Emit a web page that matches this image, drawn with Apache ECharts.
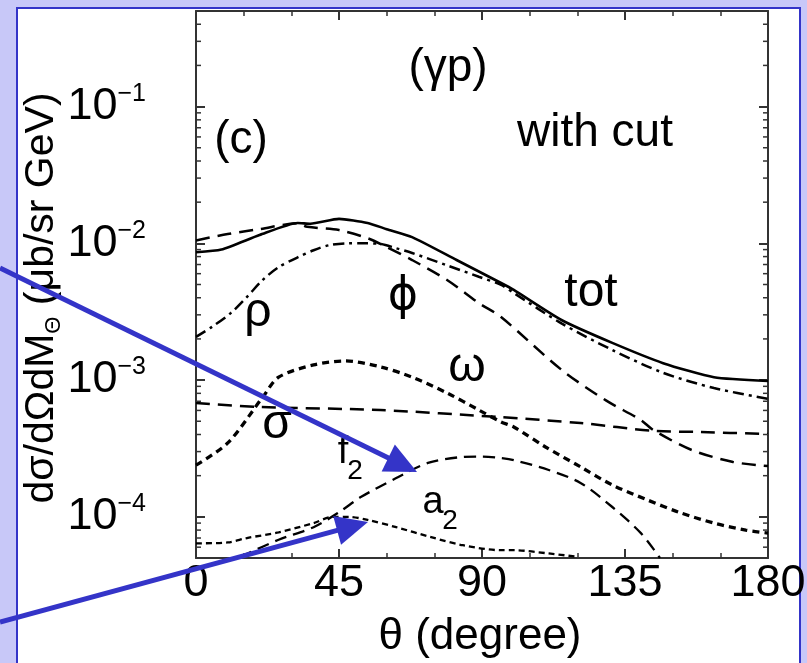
<!DOCTYPE html>
<html><head><meta charset="utf-8">
<script src="https://cdn.jsdelivr.net/npm/echarts@6/dist/echarts.min.js"></script>
<style>html,body{margin:0;padding:0;background:#c8c8f8}#c{width:807px;height:663px}</style>
</head><body><div id="c"></div>
<script>
// ---- data (theta in degrees, cross sections in μb/sr GeV) ----
const xTickLabels = [0, 45, 90, 135, 180];
const yTickLabels = ['10^-4', '10^-3', '10^-2', '10^-1'];

const thetaTot = [0, 8, 20, 32, 36, 45, 54, 60, 68, 82, 96, 100, 115, 131, 147, 163, 180];
const tot = [8.6e-3, 9.0e-3, 1.15e-2, 1.41e-2, 1.39e-2, 1.51e-2, 1.41e-2, 1.27e-2, 1.11e-2, 7.55e-3, 5.13e-3, 4.56e-3, 2.75e-3, 1.87e-3, 1.33e-3, 1.05e-3, 9.85e-4];

const thetaRho = [0, 5, 11, 16, 21, 26, 32, 37, 42, 48, 53, 58, 63, 68, 79, 89, 96, 100, 115, 131, 147, 163, 180];
const rho = [2.07e-3, 2.45e-3, 3.1e-3, 4.05e-3, 5.4e-3, 6.7e-3, 7.9e-3, 8.9e-3, 9.7e-3, 1.0e-2, 1.0e-2, 9.9e-3, 9.2e-3, 8.5e-3, 6.9e-3, 5.7e-3, 4.96e-3, 4.33e-3, 2.6e-3, 1.66e-3, 1.13e-3, 8.75e-4, 7.3e-4];

const thetaPhi = [0, 10, 20, 32, 35, 45, 54, 60, 68, 79, 89, 96, 115, 129, 140, 144, 156, 169, 180];
const phi = [1.05e-2, 1.17e-2, 1.27e-2, 1.40e-2, 1.32e-2, 1.25e-2, 1.09e-2, 9.4e-3, 7.55e-3, 5.4e-3, 3.66e-3, 2.89e-3, 1.19e-3, 7.1e-4, 5.1e-4, 4.3e-4, 3.08e-4, 2.52e-4, 2.35e-4];

const thetaOmega = [0, 10, 21, 26, 37, 47, 58, 68, 79, 89, 96, 100, 110, 121, 131, 142, 152, 163, 173, 180];
const omega = [2.39e-4, 3.47e-4, 7.5e-4, 1.05e-3, 1.29e-3, 1.38e-3, 1.25e-3, 1.05e-3, 8.05e-4, 6.04e-4, 4.94e-4, 4.54e-4, 3.24e-4, 2.32e-4, 1.71e-4, 1.33e-4, 1.08e-4, 9.0e-5, 8.0e-5, 7.6e-5];

const thetaSigma = [0, 20, 58, 95, 121, 144, 159, 180];
const sigma = [6.8e-4, 6.36e-4, 6.04e-4, 5.37e-4, 4.85e-4, 4.25e-4, 4.17e-4, 4.03e-4];

const thetaF2 = [14, 26, 37, 45, 52, 63, 73, 84, 90, 96, 100, 111, 121, 131, 140, 146];
const f2 = [5.1e-5, 6.8e-5, 8.4e-5, 1.08e-4, 1.40e-4, 1.92e-4, 2.48e-4, 2.74e-4, 2.76e-4, 2.69e-4, 2.6e-4, 2.2e-4, 1.77e-4, 1.18e-4, 7.6e-5, 5.0e-5];

const thetaA2 = [0, 10, 16, 26, 37, 43, 48, 54, 63, 74, 84, 96, 100, 111, 120];
const a2 = [6.4e-5, 6.5e-5, 7.0e-5, 7.7e-5, 9.0e-5, 1.0e-4, 1.0e-4, 9.5e-5, 8.4e-5, 7.1e-5, 6.2e-5, 5.7e-5, 5.7e-5, 5.4e-5, 5.1e-5];

// ---- chart ----
const FONT = '"Liberation Sans", Arial, Helvetica, sans-serif';
const GREEK = '"Liberation Sans", "DejaVu Sans", sans-serif';
const X_MIN = 0, X_MAX = 180, Y_MIN = 5e-5, Y_MAX = 0.5;

function pairs(xs, ys) { return xs.map((t, i) => [t, ys[i]]); }

// minor log ticks (2..9 x 10^n) inside the axis range
const minorY = [];
for (let e = -5; e <= -1; e++) {
  for (let k = 2; k <= 9; k++) {
    const v = k * Math.pow(10, e);
    if (v > Y_MIN * 1.0001 && v < Y_MAX * 0.9999) minorY.push([X_MIN, v]);
  }
}

const axisLineStyle = { color: '#333', width: 2 };
function xAxisCfg(pos, showLabel) {
  return {
    type: 'value', position: pos, min: X_MIN, max: X_MAX, interval: 45,
    axisLine: { show: true, onZero: false, lineStyle: axisLineStyle },
    axisTick: { show: true, inside: true, length: 9, lineStyle: { color: '#333', width: 2 } },
    minorTick: { show: true, splitNumber: 3, length: 5, lineStyle: { color: '#333', width: 1.5 } },
    splitLine: { show: false }, minorSplitLine: { show: false },
    axisLabel: {
      show: showLabel, margin: 3, color: '#000', fontFamily: FONT, fontSize: 45,
      formatter: v => (xTickLabels.indexOf(v) >= 0 ? String(v) : '')
    }
  };
}
function yAxisCfg(pos, showLabel) {
  return {
    type: 'log', logBase: 10, position: pos, min: Y_MIN, max: Y_MAX,
    axisLine: { show: true, onZero: false, lineStyle: axisLineStyle },
    axisTick: { show: true, inside: true, length: 9, lineStyle: { color: '#333', width: 2 } },
    splitLine: { show: false },
    axisLabel: {
      show: showLabel, margin: 50, color: '#000',
      formatter: v => {
        const l = Math.log10(v), e = Math.round(l);
        if (Math.abs(l - e) > 1e-6) return '';
        const lab = '10^' + e;
        if (yTickLabels.indexOf(lab) < 0) return '';
        return '{b|10}{s|\u2212' + (-e) + '}';
      },
      rich: {
        b: { fontFamily: FONT, fontSize: 45, lineHeight: 50, color: '#000' },
        s: { fontFamily: FONT, fontSize: 25, lineHeight: 28, verticalAlign: 'top', color: '#000' }
      }
    }
  };
}

const dashSeries = (name, xs, ys, type, width, smooth) => ({
  name, type: 'line', xAxisIndex: 0, yAxisIndex: 0, data: pairs(xs, ys),
  showSymbol: false, symbol: 'none', smooth: smooth, clip: true, silent: true,
  lineStyle: { color: '#000', width: width, type: type, cap: 'butt' }, z: 3
});

function arrow(x0, y0, x1, y1) {
  const dx = x1 - x0, dy = y1 - y0, L = Math.hypot(dx, dy);
  const ux = dx / L, uy = dy / L, nx = -uy, ny = ux;
  const hl = 32, hw = 15;
  const bx = x1 - hl * ux, by = y1 - hl * uy;
  return [
    { type: 'line', z: 100, shape: { x1: x0, y1: y0, x2: bx + 2 * ux, y2: by + 2 * uy },
      style: { stroke: '#3434c8', lineWidth: 5 } },
    { type: 'polygon', z: 100, shape: { points: [[x1, y1], [bx + hw * nx, by + hw * ny], [bx - hw * nx, by - hw * ny]] },
      style: { fill: '#3434c8' } }
  ];
}

function txt(text, x, y, size, family) {
  return { type: 'text', x: x, y: y, z: 50,
    style: { text: text, font: size + 'px ' + (family || FONT), fill: '#000',
      align: 'center', verticalAlign: 'middle', textAlign: 'center', textVerticalAlign: 'middle' } };
}

const chart = echarts.init(document.getElementById('c'), null, { renderer: 'canvas' });
chart.setOption({
  backgroundColor: '#c8c8f8',
  animation: false,
  grid: { left: 196, right: 39, top: 11, bottom: 105, containLabel: false, outerBoundsMode: 'none' },
  xAxis: [xAxisCfg('bottom', true), xAxisCfg('top', false)],
  yAxis: [yAxisCfg('left', true), yAxisCfg('right', false)],
  series: [
    dashSeries('tot', thetaTot, tot, 'solid', 2.6, 0.2),
    dashSeries('rho', thetaRho, rho, [11, 5, 3, 5], 2.5, 0.3),
    dashSeries('phi', thetaPhi, phi, [14, 8], 2.5, 0.3),
    dashSeries('omega', thetaOmega, omega, [7, 5], 3.3, 0.3),
    dashSeries('sigma', thetaSigma, sigma, [14, 8], 2.5, 0.3),
    dashSeries('f2', thetaF2, f2, [12, 7], 2.3, 0.3),
    dashSeries('a2', thetaA2, a2, [6, 4], 2.3, 0.3),
    {
      name: 'minorTicks', type: 'custom', xAxisIndex: 0, yAxisIndex: 0, silent: true, clip: false, z: 4,
      data: minorY, encode: { x: 0, y: 1 },
      renderItem: function (params, api) {
        const v = api.value(1);
        const pl = api.coord([X_MIN, v]);
        const pr = api.coord([X_MAX, v]);
        const st = { stroke: '#333', lineWidth: 1.5 };
        return { type: 'group', children: [
          { type: 'line', shape: { x1: pl[0], y1: pl[1], x2: pl[0] + 5, y2: pl[1] }, style: st },
          { type: 'line', shape: { x1: pr[0] - 5, y1: pr[1], x2: pr[0], y2: pr[1] }, style: st }
        ] };
      }
    }
  ],
  graphic: [
    { type: 'rect', z: -10, shape: { x: 17, y: 8, width: 783, height: 700 },
      style: { fill: '#ffffff', stroke: '#3434c8', lineWidth: 2 } },
    txt('(\u03b3p)', 448, 68, 46, GREEK),
    txt('(c)', 241, 140, 46),
    txt('with cut', 595, 133, 46),
    txt('tot', 591, 293, 48),
    txt('\u03d5', 403, 297, 46, '"DejaVu Sans", sans-serif'),
    txt('\u03c1', 258, 313, 48, GREEK),
    txt('\u03c9', 467, 368, 48, GREEK),
    txt('\u03c3', 277, 425, 48, GREEK),
    txt('f', 343, 453, 38),
    txt('2', 355, 471, 28),
    txt('a', 433, 503, 38),
    txt('2', 450, 521, 28),
    txt('\u03b8 (degree)', 480, 637, 44, GREEK),
    { type: 'text', x: 42, y: 298, rotation: Math.PI / 2, z: 50,
      style: { text: '{n|d\u03c3/d\u03a9dM}{sub|\u0398}{n| (\u03bcb/sr GeV)}',
        align: 'center', verticalAlign: 'middle', textAlign: 'center', textVerticalAlign: 'middle',
        rich: {
          n: { fontFamily: GREEK, fontSize: 41, lineHeight: 46, fill: '#000', color: '#000' },
          sub: { fontFamily: GREEK, fontSize: 22, lineHeight: 46, verticalAlign: 'bottom', fill: '#000', color: '#000', padding: [12, 0, 0, 0] }
        } } }
  ].concat(arrow(0, 268, 417, 472), arrow(0, 622, 368, 522))
});
</script></body></html>
